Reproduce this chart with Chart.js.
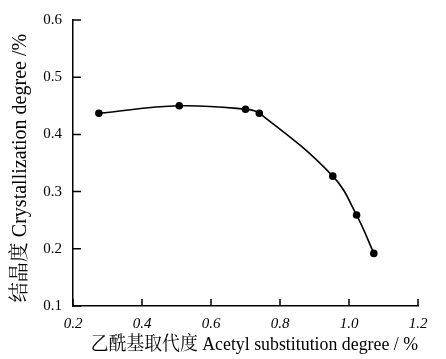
<!DOCTYPE html>
<html>
<head>
<meta charset="utf-8">
<script src="https://cdn.jsdelivr.net/npm/chart.js@4.4.1/dist/chart.umd.min.js"></script>
<style>
  html, body { margin: 0; padding: 0; background: #fff; }
  #wrap { width: 446px; height: 359px; }
</style>
</head>
<body>
<div id="wrap"><canvas id="crystChart"></canvas></div>
<script>
// =========================
// DATA
// =========================

const acetylDegree = [0.275, 0.508, 0.70, 0.74, 0.953, 1.022, 1.072];
const crystallinity = [0.437, 0.450, 0.444, 0.437, 0.327, 0.259, 0.192];

const xTicks = [0.2, 0.4, 0.6, 0.8, 1.0, 1.2];
const yTicks = [0.1, 0.2, 0.3, 0.4, 0.5, 0.6];

const serif = "'Liberation Serif', 'Noto Serif CJK SC', 'Noto Sans CJK SC', serif";

// =========================
// INWARD TICK MARKS
// =========================

const inwardTicks = {
  id: "inwardTicks",
  afterDraw(chart) {
    const ctx = chart.ctx;
    const x = chart.scales.x;
    const y = chart.scales.y;
    ctx.save();
    ctx.strokeStyle = "#000";
    ctx.lineWidth = 1.5;
    ctx.beginPath();
    yTicks.forEach((v) => {
      const py = y.getPixelForValue(v);
      ctx.moveTo(x.left, py);
      ctx.lineTo(x.left + 8, py);
    });
    xTicks.forEach((v) => {
      const px = x.getPixelForValue(v);
      ctx.moveTo(px, y.bottom);
      ctx.lineTo(px, y.bottom - 7);
    });
    ctx.stroke();
    ctx.restore();
  },
};

// =========================
// CHART
// =========================

const crystChart = new Chart(document.getElementById("crystChart"), {
  type: "scatter",
  data: {
    datasets: [
      {
        data: acetylDegree.map((v, i) => ({ x: v, y: crystallinity[i] })),
        showLine: true,
        borderColor: "#000",
        backgroundColor: "#000",
        borderWidth: 1.6,
        tension: 0.4,
        pointRadius: 3,
        pointHoverRadius: 3,
      },
    ],
  },
  options: {
    responsive: true,
    maintainAspectRatio: false,
    animation: false,
    layout: { padding: { top: 13, right: 28, left: 0, bottom: 0 } },
    plugins: { legend: { display: false }, tooltip: { enabled: false } },
    scales: {
      x: {
        type: "linear",
        min: 0.2,
        max: 1.2,
        afterBuildTicks: (s) => { s.ticks = xTicks.map((v) => ({ value: v })); },
        afterFit: (s) => { s.height = 53; },
        grid: { display: true, drawOnChartArea: false, drawTicks: false, color: "#000" },
        border: { display: true, color: "#000", width: 1.5 },
        ticks: {
          color: "#000",
          padding: 9,
          maxRotation: 0,
          font: { family: serif, size: 15, style: "italic" },
          callback: (v) => v.toFixed(1),
        },
        title: {
          display: true,
          text: "\u00a0\u00a0\u00a0\u00a0乙酰基取代度 Acetyl substitution degree / %",
          color: "#000",
          font: { family: serif, size: 19 },
          padding: { top: 0, bottom: 3 },
        },
      },
      y: {
        type: "linear",
        min: 0.1,
        max: 0.6,
        afterBuildTicks: (s) => { s.ticks = yTicks.map((v) => ({ value: v })); },
        afterFit: (s) => { s.width = 73; },
        grid: { display: true, drawOnChartArea: false, drawTicks: false, color: "#000" },
        border: { display: true, color: "#000", width: 1.5 },
        ticks: {
          color: "#000",
          padding: 11,
          font: { family: serif, size: 15 },
          callback: (v) => v.toFixed(1),
        },
        title: {
          display: true,
          text: "结晶度 Crystallization degree /%\u00a0\u00a0",
          color: "#000",
          font: { family: serif, size: 20 },
          padding: { top: 9, bottom: 0 },
        },
      },
    },
  },
  plugins: [inwardTicks],
});
</script>
</body>
</html>
